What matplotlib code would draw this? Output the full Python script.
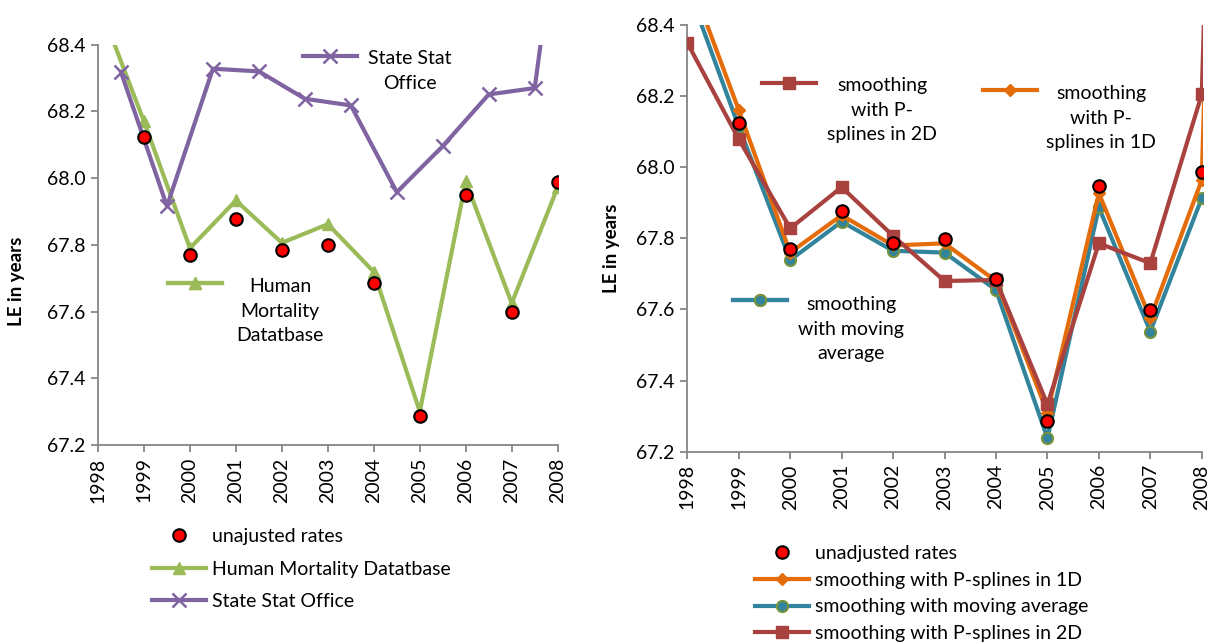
import matplotlib
matplotlib.use("Agg")
import matplotlib.pyplot as plt

plt.rcParams["font.family"] = ["Lato", "DejaVu Sans"]

# ---- data ----
tick_years = list(range(1998, 2009))

unadj_years = list(range(1999, 2009))
unadjusted = [68.123, 67.771, 67.877, 67.786, 67.799, 67.686, 67.287, 67.948, 67.599, 67.988]

hmd_years = list(range(1998, 2009))
hmd = [68.53, 68.17, 67.79, 67.933, 67.806, 67.862, 67.719, 67.30, 67.99, 67.625, 67.973]

ssa_years = [1998.5, 1999.5, 2000.5, 2001.5, 2002.5, 2003.5, 2004.5, 2005.5, 2006.5, 2007.5, 2008.5]
ssa = [68.318, 67.916, 68.328, 68.32, 68.238, 68.218, 67.958, 68.096, 68.251, 68.27, 69.3]

smooth_years = list(range(1998, 2010))
ps1d = [68.55, 68.161, 67.76, 67.865, 67.78, 67.786, 67.68, 67.31, 67.927, 67.575, 67.964, 73.0]
mavg = [68.51, 68.114, 67.739, 67.847, 67.765, 67.76, 67.655, 67.238, 67.887, 67.538, 67.913]
ps2d = [68.35, 68.079, 67.828, 67.944, 67.807, 67.68, 67.683, 67.333, 67.786, 67.73, 68.205, 73.0]

# colours
PURPLE = "#8064A2"
GREEN = "#9BBB59"
RED = "#FF0000"
ORANGE = "#E46C0A"
TEAL = "#31849B"
OLIVE = "#77933C"
DKRED = "#A9423F"
AXGRAY = "#868686"

FS = 14
W, H = 1214, 644

fig = plt.figure(figsize=(W / 100, H / 100), dpi=100)
fig.patch.set_facecolor("white")


def fx(px):
    return px / W


def fy(py):
    return 1 - py / H


def style_axes(ax):
    for s in ("top", "right"):
        ax.spines[s].set_visible(False)
    for s in ("left", "bottom"):
        ax.spines[s].set_color(AXGRAY)
        ax.spines[s].set_linewidth(1.3)
    ax.spines["bottom"].set_bounds(1998, 2008)
    ax.set_xticks(tick_years)
    ax.set_xticklabels([str(y) for y in tick_years], rotation=90)
    ax.set_yticks([67.2, 67.4, 67.6, 67.8, 68.0, 68.2, 68.4])
    ax.set_yticklabels(["67.2", "67.4", "67.6", "67.8", "68.0", "68.2", "68.4"])
    ax.set_ylim(67.2, 68.4)
    ax.tick_params(direction="out", length=5, width=1.3, color=AXGRAY,
                   labelsize=FS, labelcolor="black", pad=4)
    ax.set_ylabel("LE in years", fontsize=13.5, fontweight="bold")


def inline_key(ax, handle, hx, hy):
    lg = ax.legend(handles=[handle], labels=[""], loc="center left",
                   bbox_to_anchor=(fx(hx), fy(hy)), bbox_transform=fig.transFigure,
                   frameon=False, handlelength=2.8, borderpad=0, borderaxespad=0,
                   handletextpad=0, fontsize=FS)
    ax.add_artist(lg)


# ── Left panel ──
ax1 = fig.add_axes([fx(98), fy(445), fx(557.7 - 98), fy(44.7) - fy(445)])
l_hmd, = ax1.plot(hmd_years, hmd, color=GREEN, lw=3, marker="^", ms=9,
                  mfc=GREEN, mec=GREEN, zorder=2)
l_ssa, = ax1.plot(ssa_years, ssa, color=PURPLE, lw=3, marker="x", ms=10,
                  mew=1.8, zorder=3)
l_un, = ax1.plot(unadj_years, unadjusted, ls="none", marker="o", ms=9,
                 mfc=RED, mec="black", mew=1.5, zorder=5)
ax1.set_xlim(1998, 2008)
style_axes(ax1)
ax1.yaxis.set_label_coords(-0.159, 0.41)

inline_key(ax1, l_ssa, 303, 57)
fig.text(fx(410), fy(71), "State Stat\nOffice", ha="center", va="center",
         multialignment="center", fontsize=FS, linespacing=1.55)
inline_key(ax1, l_hmd, 168, 284)
fig.text(fx(280), fy(311), "Human\nMortality\nDatatbase", ha="center", va="center",
         multialignment="center", fontsize=FS, linespacing=1.55)

fig.legend(handles=[l_un, l_hmd, l_ssa],
           labels=["unajusted rates", "Human Mortality Datatbase", "State Stat Office"],
           loc="upper left", bbox_to_anchor=(fx(152), fy(528)),
           frameon=False, handlelength=2.8, borderpad=0, borderaxespad=0,
           handletextpad=0.3, labelspacing=0.8, fontsize=FS)

# ── Right panel ──
ax2 = fig.add_axes([fx(687.3), fy(451.7), fx(1203.3 - 687.3), fy(25) - fy(451.7)])
l_ma, = ax2.plot(smooth_years[:len(mavg)], mavg, color=TEAL, lw=3, marker="o", ms=8,
                 mfc=TEAL, mec=OLIVE, mew=1.5, zorder=2)
l_1d, = ax2.plot(smooth_years, ps1d, color=ORANGE, lw=3, marker="D", ms=6,
                 mfc=ORANGE, mec=ORANGE, zorder=3)
l_2d, = ax2.plot(smooth_years, ps2d, color=DKRED, lw=3, marker="s", ms=8,
                 mfc=DKRED, mec=DKRED, zorder=4)
l_un2, = ax2.plot(unadj_years, unadjusted, ls="none", marker="o", ms=9,
                  mfc=RED, mec="black", mew=1.5, zorder=5)
ax2.set_xlim(1998, 2008.03)
style_axes(ax2)
ax2.yaxis.set_label_coords(-0.13, 0.477)

inline_key(ax2, l_2d, 762, 84)
fig.text(fx(882), fy(110), "smoothing\nwith P-\nsplines in 2D", ha="center", va="center",
         multialignment="center", fontsize=FS, linespacing=1.55)
inline_key(ax2, l_1d, 983, 91)
fig.text(fx(1101), fy(118), "smoothing\nwith P-\nsplines in 1D", ha="center", va="center",
         multialignment="center", fontsize=FS, linespacing=1.55)
inline_key(ax2, l_ma, 733, 301)
fig.text(fx(851), fy(329), "smoothing\nwith moving\naverage", ha="center", va="center",
         multialignment="center", fontsize=FS, linespacing=1.55)

fig.legend(handles=[l_un2, l_1d, l_ma, l_2d],
           labels=["unadjusted rates", "smoothing with P-splines in 1D",
                   "smoothing with moving average", "smoothing with P-splines in 2D"],
           loc="upper left", bbox_to_anchor=(fx(755), fy(545)),
           frameon=False, handlelength=2.8, borderpad=0, borderaxespad=0,
           handletextpad=0.3, labelspacing=0.5, fontsize=FS)

fig.savefig("out.png", dpi=100, facecolor="white")
